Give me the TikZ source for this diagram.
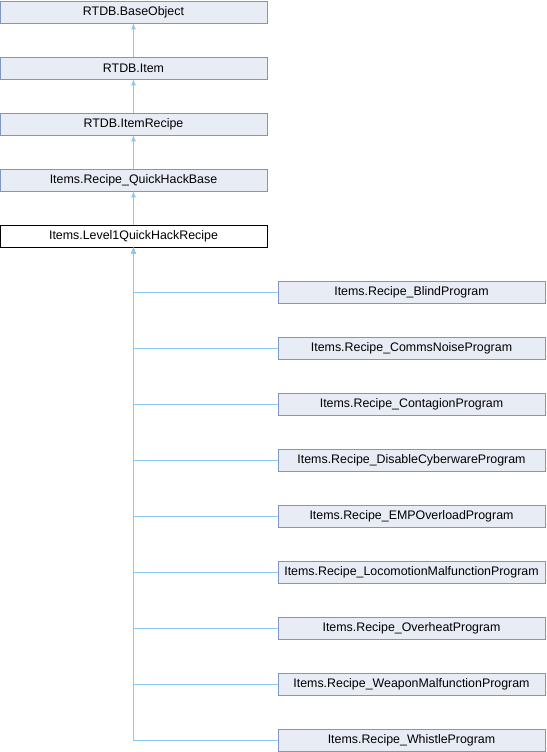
\documentclass[tikz,border=0pt]{standalone}
\usepackage{fontspec}
\setmainfont{Liberation Sans}
\usetikzlibrary{arrows.meta}
\definecolor{boxfill}{HTML}{E8ECF5}
\definecolor{boxline}{HTML}{7F95C4}
\definecolor{edgeblue}{HTML}{8CC8F0}
\begin{document}
\begin{tikzpicture}[x=1pt, y=-1pt, every node/.append style={text=black, font=\fontsize{12.4}{14}\selectfont},
	cls/.style={draw=boxline, fill=boxfill, line width=0.8pt, minimum width=267pt, minimum height=22pt, inner sep=0pt},
	edge/.style={draw=edgeblue, line width=0.8pt, -{Latex[length=6pt, width=5pt]}}]
	\useasboundingbox (0,0) rectangle (546,752);
	\node [cls] (base) at (133.5, 12) {RTDB.BaseObject};
	\node [cls] (item) at (133.5, 68) {RTDB.Item};
	\node [cls] (itemrecipe) at (133.5, 124) {RTDB.ItemRecipe};
	\node [cls] (qhbase) at (133.5, 180) {Items.Recipe\_QuickHackBase};
	\node [cls, draw=black, fill=white] (level1) at (133.5, 236) {Items.Level1QuickHackRecipe};
	
	\draw[edge] (item) -- (base);
	\draw[edge] (itemrecipe) -- (item);
	\draw[edge] (qhbase) -- (itemrecipe);
	\draw[edge] (level1) -- (qhbase);
	
	\foreach \name [count=\i from 0] in {Blind, CommsNoise, Contagion, DisableCyberware, EMPOverload, LocomotionMalfunction, Overheat, WeaponMalfunction, Whistle} {
		\node [cls] (\name) at (411.5, 292 + 56*\i) {Items.Recipe\_\name Program};
		\draw[edge] (\name.west) -| (level1.south);
	}
\end{tikzpicture}
\end{document}
